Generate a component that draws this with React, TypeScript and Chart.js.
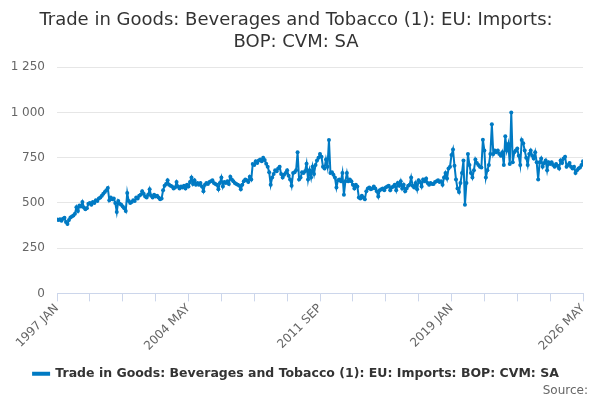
import { useEffect, useRef } from "react";
import { Chart, registerables } from "chart.js";

Chart.register(...registerables);

const MONTHS = ["JAN", "FEB", "MAR", "APR", "MAY", "JUN", "JUL", "AUG", "SEP", "OCT", "NOV", "DEC"];
const START_YEAR = 1997;

// monthly values
const v1997_2001 = [
  408, 405, 410, 402, 412, 418, 395, 383, 405, 420, 425, 430,
  440, 476, 455, 485, 480, 505, 475, 465, 470, 495, 500, 490,
  505, 500, 515, 510, 525, 530, 540, 550, 560, 570, 583, 515,
  530, 520, 525, 500, 450, 510, 495, 490, 480, 470, 455, 555,
  510, 500, 505, 515, 510, 530, 525, 540, 545, 565, 550, 535,
];
const v2002_2006 = [
  530, 545, 575, 540, 530, 545, 535, 540, 530, 520, 525, 570,
  595, 605, 625, 600, 595, 590, 580, 585, 615, 590, 580, 590,
  585, 595, 580, 600, 590, 615, 640, 605, 625, 600, 610, 600,
  610, 590, 565, 600, 610, 605, 615, 620, 625, 610, 605, 600,
  575, 610, 640, 590, 615, 610, 620, 605, 645, 630, 620, 610,
];
const v2007_2011 = [
  605, 600, 595, 575, 600, 620, 630, 625, 615, 645, 630, 715,
  710, 730, 720, 735, 740, 730, 750, 737, 717, 700, 670, 600,
  640, 660, 680, 675, 690, 700, 660, 640, 655, 665, 680, 650,
  630, 595, 665, 670, 680, 780, 630, 640, 670, 665, 675, 717,
  630, 680, 640, 700, 660, 710, 735, 750, 770, 755, 700, 690,
];
const v2012_2016 = [
  740, 700, 848, 665, 670, 655, 640, 585, 625, 630, 620, 665,
  545, 620, 665, 620, 630, 620, 600, 580, 600, 590, 530, 525,
  540, 530, 520, 565, 580, 585, 575, 580, 590, 580, 565, 535,
  570, 575, 580, 570, 585, 590, 595, 570, 585, 590, 600, 570,
  610, 595, 620, 580, 600, 565, 580, 595, 600, 640, 595, 585,
];
const v2017_2021 = [
  610, 575, 625, 615, 590, 630, 620, 635, 610, 600, 610, 605,
  605, 615, 620, 625, 615, 620, 600, 640, 665, 635, 690, 700,
  765, 795, 705, 630, 580, 560, 610, 665, 735, 490, 610, 770,
  710, 665, 640, 680, 740, 720, 710, 700, 695, 849, 790, 640,
  680, 710, 770, 935, 770, 790, 780, 790, 770, 760, 780, 710,
];
const v2022_2026 = [
  868, 790, 825, 715, 1000, 725, 780, 790, 800, 760, 710, 848,
  830, 790, 750, 710, 770, 790, 760, 745, 780, 725, 630, 725,
  745, 700, 720, 735, 680, 725, 715, 725, 710, 700, 715, 705,
  690, 735, 720, 745, 755, 700, 710, 720, 700, 690, 700, 665,
  680, 690, 695, 710, 730,
];

const values = [...v1997_2001, ...v2002_2006, ...v2007_2011, ...v2012_2016, ...v2017_2021, ...v2022_2026];
const monthLabels = values.map((_, i) => `${START_YEAR + Math.floor(i / 12)} ${MONTHS[i % 12]}`);

const TITLE = ["Trade in Goods: Beverages and Tobacco (1): EU: Imports:", "BOP: CVM: SA"];
const SERIES_NAME = "Trade in Goods: Beverages and Tobacco (1): EU: Imports: BOP: CVM: SA";
const SOURCE = "Source:";

// draws the "Source:" credit in the bottom right corner
const creditPlugin = {
  id: "credit",
  afterDraw(chart: Chart) {
    const { ctx, width, height } = chart;
    ctx.save();
    ctx.font = "12px 'DejaVu Sans', sans-serif";
    ctx.fillStyle = "#666666";
    ctx.textAlign = "right";
    ctx.textBaseline = "alphabetic";
    ctx.fillText(SOURCE, width - 12, height - 6);
    ctx.restore();
  },
};

export default function App() {
  const canvasRef = useRef<HTMLCanvasElement>(null);

  useEffect(() => {
    document.body.style.margin = "0";
    if (!canvasRef.current) return;

    Chart.defaults.font.family = "'DejaVu Sans', sans-serif";

    const chart = new Chart(canvasRef.current, {
      type: "line",
      data: {
        datasets: [
          {
            label: SERIES_NAME,
            data: values.map((v, i) => ({ x: i, y: v })),
            borderColor: "#007ac3",
            backgroundColor: "#007ac3",
            borderWidth: 2,
            pointRadius: 2,
            pointBorderWidth: 0,
            tension: 0,
          },
        ],
      },
      options: {
        animation: false,
        responsive: false,
        layout: { padding: { left: 9, right: 17, top: 0, bottom: 10 } },
        plugins: {
          title: {
            display: true,
            text: TITLE,
            color: "#333333",
            font: { size: 18, weight: "normal" },
            padding: { top: 10, bottom: 14 },
          },
          legend: {
            position: "bottom",
            labels: {
              color: "#333333",
              font: { size: 12.5, weight: "bold" },
              boxWidth: 16,
              boxHeight: 2,
              padding: 14,
            },
          },
          tooltip: { enabled: false },
        },
        scales: {
          x: {
            type: "linear",
            min: 0,
            max: values.length - 1,
            grid: { drawOnChartArea: false, drawTicks: true, tickLength: 8, color: "#ccd6eb" },
            border: { color: "#ccd6eb" },
            ticks: {
              stepSize: 22,
              autoSkip: false,
              maxRotation: 45,
              minRotation: 45,
              padding: 0,
              color: "#666666",
              font: { size: 12 },
              callback: (value) => (Number(value) % 88 === 0 ? monthLabels[Number(value)] : ""),
            },
          },
          y: {
            min: 0,
            max: 1250,
            grid: { color: "#e6e6e6", drawTicks: false },
            border: { display: false },
            afterFit: (scale) => {
              scale.width = 48;
            },
            ticks: {
              stepSize: 250,
              padding: 12,
              color: "#666666",
              font: { size: 12 },
              callback: (value) => Number(value).toLocaleString("en-US").replace(",", " "),
            },
          },
        },
      },
      plugins: [creditPlugin],
    });

    return () => chart.destroy();
  }, []);

  return (
    <div style={{ width: 600, height: 400 }}>
      <canvas ref={canvasRef} width={600} height={400} />
    </div>
  );
}
